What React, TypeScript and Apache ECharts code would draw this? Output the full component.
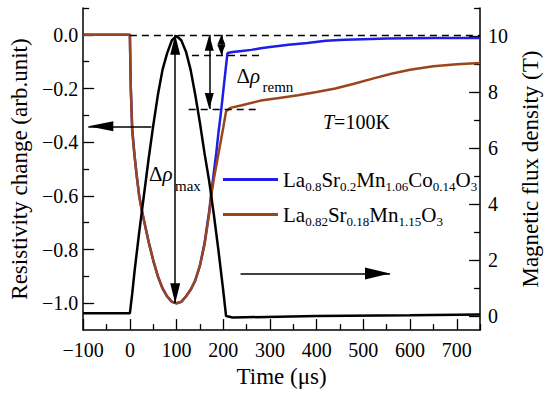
import React, { useEffect, useRef } from "react";
import * as echarts from "echarts";

const FONT = "Liberation Serif";

// Axis ticks
const xMajorTicks = [-100, 0, 100, 200, 300, 400, 500, 600, 700];
const xMinorTicks = [-50, 50, 150, 250, 350, 450, 550, 650, 750];
const leftMajorTicks = [-1.0, -0.8, -0.6, -0.4, -0.2, 0.0];
const leftMinorTicks = [-0.9, -0.7, -0.5, -0.3, -0.1, 0.1];
const rightMajorTicks = [0, 2, 4, 6, 8, 10];
const rightMinorTicks = [1, 3, 5, 7, 9, 11];

// Series: La0.8Sr0.2Mn1.06Co0.14O3 (blue)
const blueTime = [-100, 0, 2, 5, 10, 15, 20, 25, 30, 40, 50, 60, 70, 80, 90, 100, 110, 120, 130, 140, 150, 160, 170, 175, 180, 185, 190, 195, 200, 205, 209, 220, 240, 260, 280, 300, 340, 380, 420, 460, 500, 550, 600, 650, 700, 750];
const blueRho = [0, 0, -0.2, -0.35, -0.45, -0.53, -0.6, -0.65, -0.69, -0.77, -0.84, -0.9, -0.945, -0.975, -0.995, -1.0, -0.995, -0.975, -0.95, -0.915, -0.86, -0.775, -0.655, -0.58, -0.51, -0.44, -0.36, -0.29, -0.21, -0.13, -0.068, -0.064, -0.06, -0.056, -0.05, -0.045, -0.037, -0.03, -0.022, -0.018, -0.016, -0.014, -0.013, -0.012, -0.012, -0.012];

// Series: La0.82Sr0.18Mn1.15O3 (brown)
const brownTime = [-100, 0, 2, 5, 10, 15, 20, 25, 30, 40, 50, 60, 70, 80, 90, 100, 110, 120, 130, 140, 150, 160, 170, 175, 180, 190, 200, 206, 215, 240, 280, 320, 360, 400, 440, 480, 520, 560, 600, 650, 700, 750];
const brownRho = [0, 0, -0.2, -0.36, -0.45, -0.53, -0.6, -0.65, -0.69, -0.77, -0.84, -0.9, -0.945, -0.975, -0.995, -1.0, -0.995, -0.975, -0.95, -0.915, -0.86, -0.78, -0.665, -0.59, -0.535, -0.44, -0.345, -0.285, -0.272, -0.262, -0.245, -0.235, -0.225, -0.213, -0.2, -0.182, -0.163, -0.145, -0.13, -0.117, -0.11, -0.105];

// Magnetic field pulse (right axis, T)
const fieldTime = [-100, 0, 5, 10, 20, 30, 40, 50, 60, 70, 80, 90, 100, 110, 120, 130, 140, 150, 160, 170, 180, 190, 200, 206, 220, 400, 600, 750];
const fieldB = [0.1, 0.1, 0.8, 1.6, 3.0, 4.3, 5.6, 6.8, 7.9, 8.8, 9.4, 9.85, 10.0, 9.85, 9.45, 8.8, 7.9, 6.9, 5.8, 4.8, 3.6, 2.3, 0.9, 0.0, -0.05, 0.0, 0.03, 0.06];

// Formulas for legend
const blueFormula: [string, string][] = [["La", "0.8"], ["Sr", "0.2"], ["Mn", "1.06"], ["Co", "0.14"], ["O", "3"]];
const brownFormula: [string, string][] = [["La", "0.82"], ["Sr", "0.18"], ["Mn", "1.15"], ["O", "3"]];

// Annotation geometry in data units
const dashedLevels: [number, number, number][] = [
  [0, 750, 0],
  [133, 282, -0.075],
  [126, 272, -0.276],
];
const doubleArrows: [number, number, number, number, number][] = [
  [97, 0, -1.0, 10, 20],
  [170, 0, -0.276, 9, 16],
  [196, 0, -0.075, 8, 10],
];
const leftArrow = { from: [46, -0.341], to: [-89, -0.341] };
const rightArrow = { from: [237, 1.52], to: [557, 1.52] };

const pairs = (xs: number[], ys: number[]) => xs.map((x, i) => [x, ys[i]]);
const nameOf = (f: [string, string][]) => f.map(([e, s]) => e + s).join("");
const richOf = (f: [string, string][]) => f.map(([e, s]) => `{m|${e}}{s|${s}}`).join("");
const blueName = nameOf(blueFormula);
const brownName = nameOf(brownFormula);

const minus = (v: number, digits?: number) => {
  const a = digits != null ? Math.abs(v).toFixed(digits) : String(Math.abs(v));
  return (v < -1e-9 ? "\u2212" : "") + a;
};

const BLUE = "#1e1ee6";
const BROWN = "#9a451c";

export default function App() {
  const ref = useRef<HTMLDivElement>(null);
  useEffect(() => {
    if (!ref.current) return;
    const chart = echarts.init(ref.current, undefined, { renderer: "svg" });

    const axisLine = { show: true, onZero: false, lineStyle: { color: "#000", width: 1.5 } };
    const labelStyle = { color: "#000", fontFamily: FONT, fontSize: 20 };
    const nameStyle = { color: "#000", fontFamily: FONT, fontSize: 23 };

    const legendRich = {
      m: { fontFamily: FONT, fontSize: 21, color: "#000", lineHeight: 26, verticalAlign: "middle" },
      s: { fontFamily: FONT, fontSize: 13, color: "#000", lineHeight: 10, verticalAlign: "bottom" },
    };
    const legendBase = {
      orient: "vertical",
      itemWidth: 55,
      itemHeight: 3,
      icon: "rect",
      padding: 0,
      itemGap: 0,
      selectedMode: false,
      textStyle: { rich: legendRich },
    };

    const arrowEnd = (coord: number[], w: number, l: number) => ({
      coord,
      symbol: "triangle",
      symbolSize: [w, l],
      symbolOffset: [0, "50%"],
    });

    const brownMarkLines: any[] = [];
    dashedLevels.forEach(([t0, t1, r]) => {
      brownMarkLines.push([
        { coord: [t0, r], symbol: "none", lineStyle: { type: [7, 5], width: 1.3, color: "#000" } },
        { coord: [t1, r], symbol: "none" },
      ]);
    });
    doubleArrows.forEach(([t, r0, r1, w, l]) => {
      brownMarkLines.push([arrowEnd([t, r0], w, l), arrowEnd([t, r1], w, l)]);
    });
    brownMarkLines.push([
      { coord: leftArrow.from, symbol: "none" },
      arrowEnd(leftArrow.to, 10, 25),
    ]);

    const option: any = {
      animation: false,
      grid: { left: 80, right: 62, top: 8, bottom: 62, containLabel: false },
      legend: [
        { ...legendBase, data: [blueName], left: 223, top: 169, formatter: () => richOf(blueFormula) },
        { ...legendBase, data: [brownName], left: 223, top: 204, formatter: () => richOf(brownFormula) },
      ],
      xAxis: [
        {
          type: "value",
          min: -100,
          max: 750,
          position: "bottom",
          axisLine,
          splitLine: { show: false },
          axisTick: { show: true, inside: true, length: 11, customValues: xMajorTicks, lineStyle: { color: "#000", width: 1.3 } },
          axisLabel: { ...labelStyle, margin: 10, customValues: xMajorTicks, formatter: (v: number) => minus(v) },
          name: "Time (\u03bcs)",
          nameLocation: "middle",
          nameGap: 28,
          nameTextStyle: nameStyle,
        },
        {
          type: "value",
          min: -100,
          max: 750,
          position: "bottom",
          axisLine: { show: false, onZero: false },
          splitLine: { show: false },
          axisTick: { show: true, inside: true, length: 6, customValues: xMinorTicks, lineStyle: { color: "#000", width: 1.3 } },
          axisLabel: { show: false },
        },
      ],
      yAxis: [
        {
          type: "value",
          min: -1.1,
          max: 0.1,
          position: "left",
          axisLine,
          splitLine: { show: false },
          axisTick: { show: true, inside: true, length: 11, customValues: leftMajorTicks, lineStyle: { color: "#000", width: 1.3 } },
          axisLabel: { ...labelStyle, margin: 5, customValues: leftMajorTicks, formatter: (v: number) => minus(v, 1) },
          name: "Resistivity change (arb.unit)",
          nameLocation: "middle",
          nameRotate: 90,
          nameGap: 44,
          nameTextStyle: nameStyle,
        },
        {
          type: "value",
          min: -0.5,
          max: 11,
          position: "right",
          axisLine,
          splitLine: { show: false },
          axisTick: { show: true, inside: true, length: 11, customValues: rightMajorTicks, lineStyle: { color: "#000", width: 1.3 } },
          axisLabel: { ...labelStyle, margin: 8, customValues: rightMajorTicks, formatter: (v: number) => minus(v) },
          name: "Magnetic flux density (T)",
          nameLocation: "middle",
          nameRotate: 90,
          nameGap: 30,
          nameTextStyle: nameStyle,
        },
        {
          type: "value",
          min: -1.1,
          max: 0.1,
          position: "left",
          axisLine: { show: false, onZero: false },
          splitLine: { show: false },
          axisTick: { show: true, inside: true, length: 6, customValues: leftMinorTicks, lineStyle: { color: "#000", width: 1.3 } },
          axisLabel: { show: false },
        },
        {
          type: "value",
          min: -0.5,
          max: 11,
          position: "right",
          axisLine: { show: false, onZero: false },
          splitLine: { show: false },
          axisTick: { show: true, inside: true, length: 6, customValues: rightMinorTicks, lineStyle: { color: "#000", width: 1.3 } },
          axisLabel: { show: false },
        },
      ],
      series: [
        {
          name: blueName,
          type: "line",
          xAxisIndex: 0,
          yAxisIndex: 0,
          data: pairs(blueTime, blueRho),
          showSymbol: false,
          lineStyle: { color: BLUE, width: 2.5 },
          itemStyle: { color: BLUE },
        },
        {
          name: brownName,
          type: "line",
          xAxisIndex: 0,
          yAxisIndex: 0,
          data: pairs(brownTime, brownRho),
          showSymbol: false,
          lineStyle: { color: BROWN, width: 2.5 },
          itemStyle: { color: BROWN },
          markLine: {
            silent: true,
            animation: false,
            symbol: ["none", "none"],
            label: { show: false },
            lineStyle: { color: "#000", width: 1.5, type: "solid" },
            emphasis: { disabled: true },
            data: brownMarkLines,
          },
        },
        {
          name: "B",
          type: "line",
          xAxisIndex: 0,
          yAxisIndex: 1,
          data: pairs(fieldTime, fieldB),
          showSymbol: false,
          lineStyle: { color: "#000", width: 2.5 },
          itemStyle: { color: "#000" },
          markLine: {
            silent: true,
            animation: false,
            symbol: ["none", "none"],
            label: { show: false },
            lineStyle: { color: "#000", width: 1.5, type: "solid" },
            emphasis: { disabled: true },
            data: [[{ coord: rightArrow.from, symbol: "none" }, arrowEnd(rightArrow.to, 12, 25)]],
          },
        },
      ],
      graphic: [
        {
          type: "text",
          x: 149,
          y: 174,
          style: {
            text: "{d|\u0394}{r|\u03c1}",
            verticalAlign: "middle",
            rich: {
              d: { fontFamily: FONT, fontSize: 21, fill: "#000" },
              r: { fontFamily: FONT, fontSize: 21, fontStyle: "italic", fill: "#000" },
            },
          },
        },
        {
          type: "text",
          x: 175,
          y: 185.5,
          style: { text: "max", fontFamily: FONT, fontSize: 15, fill: "#000", verticalAlign: "middle" },
        },
        {
          type: "text",
          x: 236.5,
          y: 76,
          style: {
            text: "{d|\u0394}{r|\u03c1}",
            verticalAlign: "middle",
            rich: {
              d: { fontFamily: FONT, fontSize: 21, fill: "#000" },
              r: { fontFamily: FONT, fontSize: 21, fontStyle: "italic", fill: "#000" },
            },
          },
        },
        {
          type: "text",
          x: 262.5,
          y: 86.5,
          style: { text: "remn", fontFamily: FONT, fontSize: 15, fill: "#000", verticalAlign: "middle" },
        },
        {
          type: "text",
          x: 323,
          y: 121.5,
          style: {
            text: "{i|T}{n|=100K}",
            verticalAlign: "middle",
            rich: {
              i: { fontFamily: FONT, fontSize: 20, fontStyle: "italic", fill: "#000" },
              n: { fontFamily: FONT, fontSize: 20, fill: "#000" },
            },
          },
        },
      ],
    };

    chart.setOption(option);
    return () => chart.dispose();
  }, []);

  return <div ref={ref} style={{ width: 550, height: 393, position: "absolute", left: 0, top: 0 }} />;
}
